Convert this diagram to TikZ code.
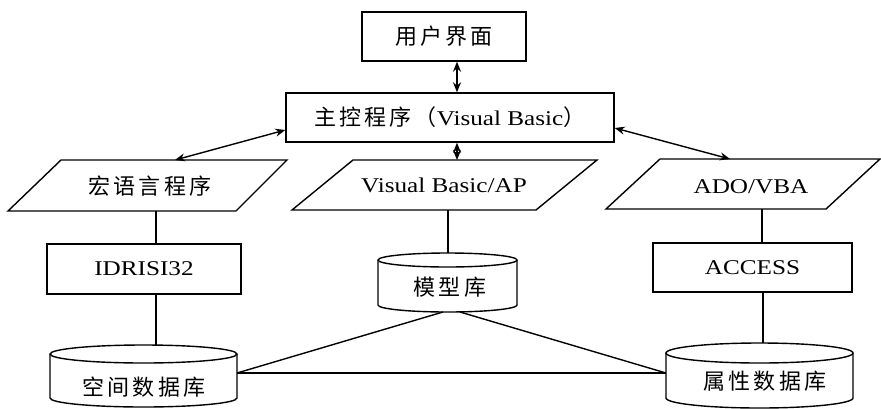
\documentclass[tikz,border=0pt]{standalone}
\usepackage{fontspec}
\setmainfont[FakeStretch=1.2]{Liberation Serif}
\newfontfamily\cjk[LetterSpace=14]{Noto Sans CJK SC}
\usetikzlibrary{arrows.meta}
\begin{document}
\begin{tikzpicture}[x=1pt,y=1pt,
  every node/.style={font=\fontsize{21}{25}\selectfont},
  cjktext/.style={font=\fontsize{22}{26}\selectfont\cjk},
  box/.style={draw, line width=1.4pt, inner sep=0pt},
  outline/.style={draw, line width=1.4pt, line join=miter},
  conn/.style={line width=1.4pt},
  biarrow/.style={conn, {Stealth[length=10pt,width=8pt]}-{Stealth[length=10pt,width=8pt]}},
  lbl/.style={inner sep=0pt}]
\useasboundingbox (0,0) rectangle (881,-408);

% top boxes
\node[box, cjktext, minimum width=164pt, minimum height=49pt] (ui) at (444,-36.5) {用户界面};
\node[box, minimum width=328pt, minimum height=49pt] (main) at (450,-117.5) {{\fontsize{22}{26}\selectfont\cjk 主控程序（}Visual Basic{\fontsize{22}{26}\selectfont\cjk ）}};

% parallelograms
\draw[outline] (61,-160) -- (287,-160) -- (236,-211) -- (8,-211) -- cycle;
\node[lbl, cjktext] (hy) at (150,-186) {宏语言程序};
\coordinate (hyin) at (175,-160);
\coordinate (hyout) at (156,-211);

\draw[outline] (353,-160) -- (597,-160) -- (536,-210) -- (292,-210) -- cycle;
\node[lbl] (vb) at (444,-185) {Visual Basic/AP};
\coordinate (vbin) at (457,-160);
\coordinate (vbout) at (448,-210);

\draw[outline] (660,-159) -- (880,-159) -- (826,-209) -- (606,-209) -- cycle;
\node[lbl] (ado) at (751,-187) {ADO/VBA};
\coordinate (adoin) at (730,-159);
\coordinate (adoout) at (762,-209);

% middle boxes
\node[box, minimum width=194pt, minimum height=50pt] (idr) at (144,-269) {IDRISI32};
\node[box, minimum width=199pt, minimum height=49pt] (acc) at (752.5,-267.5) {ACCESS};

% cylinders
\draw[outline] (50,-354) -- (50,-398) arc[start angle=180,end angle=360,x radius=93.5,y radius=9] -- (237,-354);
\draw[outline] (143.5,-354) ellipse [x radius=93.5, y radius=9];
\node[lbl, cjktext] (kj) at (144,-387) {空间数据库};
\coordinate (kjtop) at (156,-345);
\coordinate (kjR) at (237,-373);

\draw[outline] (378,-260) -- (378,-305) arc[start angle=180,end angle=360,x radius=69.5,y radius=7] -- (517,-260);
\draw[outline] (447.5,-260) ellipse [x radius=69.5, y radius=7];
\node[lbl, cjktext] (mx) at (450,-287.5) {模型库};
\coordinate (mxtop) at (448,-253);
\coordinate (mxL) at (443,-312);
\coordinate (mxR) at (460,-312);

\draw[outline] (666,-353) -- (666,-398) arc[start angle=180,end angle=360,x radius=93.5,y radius=10] -- (853,-353);
\draw[outline] (759.5,-353) ellipse [x radius=93.5, y radius=10];
\node[lbl, cjktext] (sx) at (765,-381) {属性数据库};
\coordinate (sxtop) at (763,-343);
\coordinate (sxL) at (666,-373);

% connectors
\draw[biarrow] ([xshift=13pt]ui.south) -- ([xshift=7pt]main.north);
\draw[biarrow] ([yshift=-12.5pt]main.west) -- (hyin);
\draw[biarrow] ([xshift=7pt]main.south) -- (vbin);
\draw[biarrow] ([yshift=-10.5pt]main.east) -- (adoin);

\draw[conn] (hyout) -- (idr.north -| hyout);
\draw[conn] (idr.south -| kjtop) -- (kjtop);
\draw[conn] (vbout) -- (mxtop);
\draw[conn] (adoout) -- (acc.north -| adoout);
\draw[conn] (acc.south -| sxtop) -- (sxtop);

\draw[conn] (mxL) -- (kjR);
\draw[conn] (mxR) -- (sxL);
\draw[conn] (kjR) -- (sxL);
\end{tikzpicture}
\end{document}
